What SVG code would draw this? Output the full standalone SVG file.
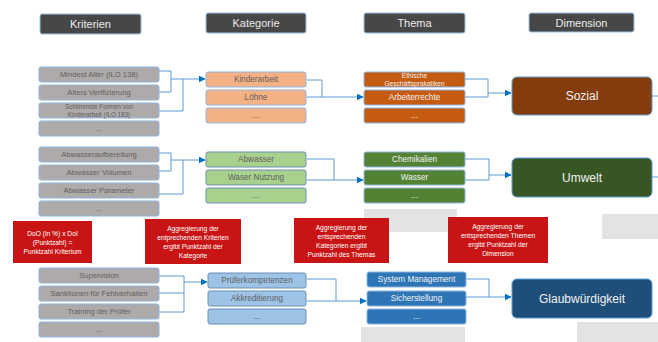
<svg xmlns="http://www.w3.org/2000/svg" width="658" height="342" viewBox="0 0 658 342">
<defs>
<marker id="arr" viewBox="0 0 10 10" refX="9" refY="5" markerWidth="7" markerHeight="7" markerUnits="userSpaceOnUse" orient="auto"><path d="M0,0 L10,5 L0,10 z" fill="#0070c0"/></marker>
<style>
text{font-family:"Liberation Sans",Arial,sans-serif;text-anchor:middle;dominant-baseline:central}
.hdr rect{fill:#474747;stroke:#9dc3e6;stroke-width:1}
.hdr text{fill:#ececec;font-size:11px}
.crit rect{fill:#aeaaaa;stroke:#8eb4e3;stroke-width:1}
.crit text{fill:#5f5f5f;font-size:7.6px}
.kat1 rect{fill:#f4b183;stroke:#8eb4e3}
.kat2 rect{fill:#a9d18e;stroke:#6d8fb5}
.kat3 rect{fill:#9dc3e6;stroke:#6d8fb5}
.kat text{fill:#5f5f5f;font-size:8.2px}
.th1 rect{fill:#c55a11;stroke:#8eb4e3}
.th2 rect{fill:#548235;stroke:#8eb4e3}
.th3 rect{fill:#2e75b6;stroke:#8eb4e3}
.th text{fill:#f2f2f2;font-size:8.2px}
.dim rect{stroke:#5b9bd5;stroke-width:1}
.dim text{fill:#f2f2f2;font-size:12px}
.red rect{fill:#c81414}
.red text{fill:#ffffff;font-size:6.7px}
.shade{fill:#e3e3e3}
.con path{fill:none;stroke:#5b9bd5;stroke-width:1}
</style>
</defs>
<rect width="658" height="342" fill="#ffffff"/>

<!-- grey shadows -->
<rect class="shade" x="364" y="209" width="93" height="23"/>
<rect class="shade" x="602" y="214" width="56" height="25"/>
<rect class="shade" x="361" y="327" width="104" height="15"/>
<rect class="shade" x="577" y="322" width="81" height="20"/>

<!-- headers -->
<g id="h-kriterien" class="hdr"><rect x="40" y="14" width="101" height="20" rx="2"/><text x="90.5" y="24">Kriterien</text></g>
<g id="h-kategorie" class="hdr"><rect x="206" y="13" width="100" height="20" rx="2"/><text x="256" y="23">Kategorie</text></g>
<g id="h-thema" class="hdr"><rect x="364" y="13" width="101" height="20" rx="2"/><text x="414.5" y="23">Thema</text></g>
<g id="h-dimension" class="hdr"><rect x="529" y="13" width="105" height="19" rx="2"/><text x="581.5" y="22.5">Dimension</text></g>

<!-- connectors -->
<g id="connectors" class="con">
<path d="M159,71 H171 V92 H159"/>
<path d="M159,111 H183 V79"/>
<path d="M171,79 H205" marker-end="url(#arr)"/>
<path d="M307,80 H322 V97 H307"/>
<path d="M322,97 H363" marker-end="url(#arr)"/>
<path d="M465,79 H488 V97 H465"/>
<path d="M488,93 H511" marker-end="url(#arr)"/>
<path d="M652,96 H658"/>

<path d="M159,153 H171 V171 H159"/>
<path d="M159,194 H183 V160"/>
<path d="M171,160 H205" marker-end="url(#arr)"/>
<path d="M307,159 H334 V180 H307"/>
<path d="M334,180 H363" marker-end="url(#arr)"/>
<path d="M465,159 H489 V180 H465"/>
<path d="M489,175 H511" marker-end="url(#arr)"/>
<path d="M652,177 H658"/>

<path d="M159,276 H184 V312 H159"/>
<path d="M159,293 H184"/>
<path d="M184,282 H207" marker-end="url(#arr)"/>
<path d="M307,279 H336 V301 H307"/>
<path d="M336,301 H366" marker-end="url(#arr)"/>
<path d="M466,279 H489 V297 H466"/>
<path d="M489,297 H511" marker-end="url(#arr)"/>
</g>

<!-- criteria group 1 -->
<g id="c-mindest" class="crit"><rect x="39" y="67" width="120" height="15" rx="2"/><text x="99" y="74.5">Mindest Alter (ILO 138)</text></g>
<g id="c-alters" class="crit"><rect x="39" y="85" width="120" height="15" rx="2"/><text x="99" y="92.5">Alters Verifizierung</text></g>
<g id="c-schlimmste" class="crit"><rect x="39" y="103" width="120" height="15" rx="2"/><text x="99" y="106.8" style="font-size:6.3px">Schlimmste Formen von</text><text x="99" y="114.2" style="font-size:6.3px">Kinderarbeit (ILO 183)</text></g>
<g id="c-more1" class="crit"><rect x="39" y="121" width="120" height="15" rx="2"/><text x="99" y="128.5">...</text></g>

<!-- criteria group 2 -->
<g id="c-abwauf" class="crit"><rect x="39" y="147" width="120" height="15" rx="2"/><text x="99" y="154.5">Abwasseraufbereitung</text></g>
<g id="c-abwvol" class="crit"><rect x="39" y="165" width="120" height="15" rx="2"/><text x="99" y="172.5">Abwasser Volumen</text></g>
<g id="c-abwpar" class="crit"><rect x="39" y="183" width="120" height="15" rx="2"/><text x="99" y="190.5">Abwasser Parameter</text></g>
<g id="c-more2" class="crit"><rect x="39" y="201" width="120" height="15" rx="2"/><text x="99" y="208.5">...</text></g>

<!-- criteria group 3 -->
<g id="c-supervision" class="crit"><rect x="39" y="268" width="120" height="15" rx="2"/><text x="99" y="275.5">Supervision</text></g>
<g id="c-sanktionen" class="crit"><rect x="39" y="286" width="120" height="15" rx="2"/><text x="99" y="293.5">Sanktionen für Fehlverhalten</text></g>
<g id="c-training" class="crit"><rect x="39" y="304" width="120" height="15" rx="2"/><text x="99" y="311.5">Training der Prüfer</text></g>
<g id="c-more3" class="crit"><rect x="39" y="322" width="120" height="15" rx="2"/><text x="99" y="329.5">...</text></g>

<!-- kategorie -->
<g id="k-kinderarbeit" class="kat kat1"><rect x="206" y="72" width="100" height="15" rx="2"/><text x="256" y="79.5">Kinderarbeit</text></g>
<g id="k-loehne" class="kat kat1"><rect x="206" y="90" width="100" height="15" rx="2"/><text x="256" y="97.5">Löhne</text></g>
<g id="k-more1" class="kat kat1"><rect x="206" y="108" width="100" height="15" rx="2"/><text x="256" y="115.5">...</text></g>

<g id="k-abwasser" class="kat kat2"><rect x="206" y="152" width="100" height="15" rx="2"/><text x="256" y="159.5">Abwasser</text></g>
<g id="k-nutzung" class="kat kat2"><rect x="206" y="170" width="100" height="15" rx="2"/><text x="256" y="177.5">Waser Nutzung</text></g>
<g id="k-more2" class="kat kat2"><rect x="206" y="188" width="100" height="15" rx="2"/><text x="256" y="195.5">...</text></g>

<g id="k-pruefer" class="kat kat3"><rect x="208" y="273" width="98" height="15" rx="2"/><text x="257" y="280.5">Prüferkompetenzen</text></g>
<g id="k-akkred" class="kat kat3"><rect x="208" y="291" width="98" height="15" rx="2"/><text x="257" y="298.5">Akkreditierung</text></g>
<g id="k-more3" class="kat kat3"><rect x="208" y="309" width="98" height="15" rx="2"/><text x="257" y="316.5">...</text></g>

<!-- thema -->
<g id="t-ethische" class="th th1"><rect x="364" y="72" width="101" height="15" rx="2"/><text x="414.5" y="75.6" style="font-size:6.6px">Ethische</text><text x="414.5" y="83.4" style="font-size:6.6px">Geschäftsprakatiken</text></g>
<g id="t-arbeiter" class="th th1"><rect x="364" y="90" width="101" height="15" rx="2"/><text x="414.5" y="97.5">Arbeiterrechte</text></g>
<g id="t-more1" class="th th1"><rect x="364" y="108" width="101" height="15" rx="2"/><text x="414.5" y="115.5">...</text></g>

<g id="t-chemikalien" class="th th2"><rect x="364" y="152" width="101" height="15" rx="2"/><text x="414.5" y="159.5">Chemikalien</text></g>
<g id="t-wasser" class="th th2"><rect x="364" y="170" width="101" height="15" rx="2"/><text x="414.5" y="177.5">Wasser</text></g>
<g id="t-more2" class="th th2"><rect x="364" y="188" width="101" height="15" rx="2"/><text x="414.5" y="195.5">...</text></g>

<g id="t-system" class="th th3"><rect x="367" y="272" width="99" height="15" rx="2"/><text x="416.5" y="279.5">System Management</text></g>
<g id="t-sicher" class="th th3"><rect x="367" y="291" width="99" height="15" rx="2"/><text x="416.5" y="298.5">Sicherstellung</text></g>
<g id="t-more3" class="th th3"><rect x="367" y="309" width="99" height="15" rx="2"/><text x="416.5" y="316.5">...</text></g>

<!-- dimension -->
<g id="d-sozial" class="dim"><rect x="512" y="77" width="140" height="38" rx="5" fill="#843c0c"/><text x="582" y="96">Sozial</text></g>
<g id="d-umwelt" class="dim"><rect x="512" y="158" width="140" height="39" rx="5" fill="#375623"/><text x="582" y="177.5">Umwelt</text></g>
<g id="d-glaub" class="dim"><rect x="512" y="279" width="140" height="39" rx="5" fill="#1f4e79"/><text x="582" y="298.5">Glaubwürdigkeit</text></g>

<!-- red notes -->
<g id="n-dod" class="red"><rect x="13" y="221" width="79" height="42"/><text x="52.5" y="233">DoO (in %) x DoI</text><text x="52.5" y="242">(Punktzahl) =</text><text x="52.5" y="251">Punktzahl Kriterium</text></g>
<g id="n-kat" class="red"><rect x="145" y="219" width="96" height="45"/><text x="193" y="228">Aggregierung der</text><text x="193" y="237">entprechenden Kriterien</text><text x="193" y="246">ergibt Punktzahl der</text><text x="193" y="255">Kategorie</text></g>
<g id="n-thema" class="red"><rect x="294" y="218" width="95" height="45"/><text x="341.5" y="227">Aggregierung der</text><text x="341.5" y="236">entsprechenden</text><text x="341.5" y="245">Kategorien ergibt</text><text x="341.5" y="254">Punktzahl des Themas</text></g>
<g id="n-dim" class="red"><rect x="448" y="217" width="100" height="46"/><text x="498" y="226">Aggregierung der</text><text x="498" y="235">entsprechenden Themen</text><text x="498" y="244">ergibt Punktzahl der</text><text x="498" y="253">Dimension</text></g>
</svg>
